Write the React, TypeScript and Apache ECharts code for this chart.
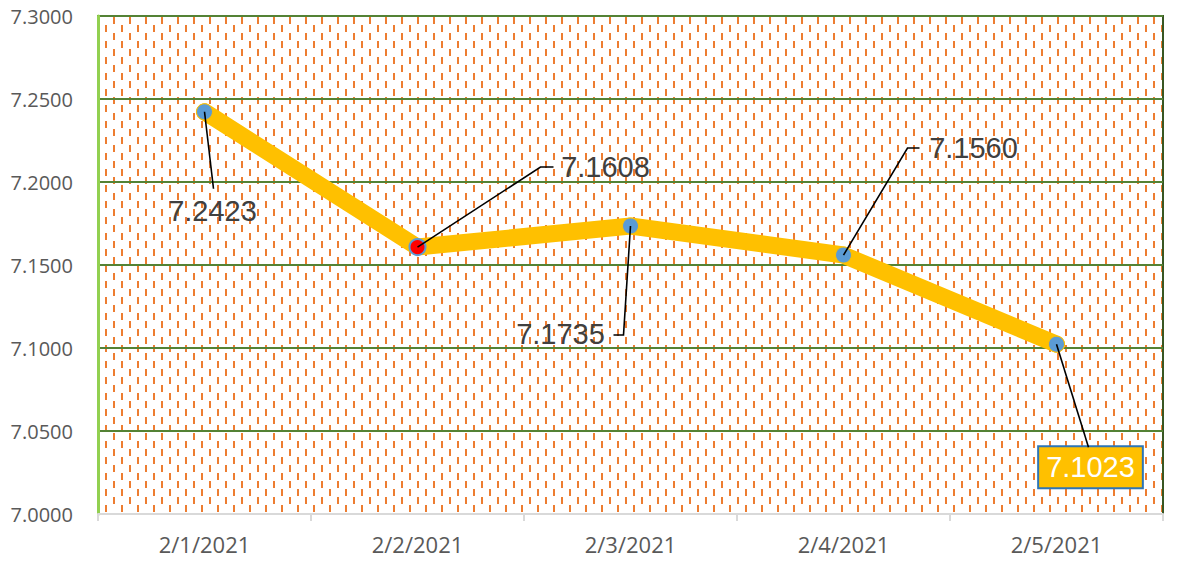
import React, { useEffect, useRef } from "react";
import * as echarts from "echarts";

const categories = ["2/1/2021", "2/2/2021", "2/3/2021", "2/4/2021", "2/5/2021"];
const values = [7.2423, 7.1608, 7.1735, 7.156, 7.1023];
const yMin = 7.0;
const yMax = 7.3;
const yStep = 0.05;
const labelOffsets: number[][] = [
  [8, 99],
  [188, -80],
  [-70, 108],
  [130, -107],
  [34, 123],
];
// leader line bends, relative to each point (pixels)
const leaderPaths: number[][][] = [
  [[9, 77]],
  [[123, -80], [136, -80]],
  [[-7, 109], [-17, 109]],
  [[64, -107], [76, -107]],
  [[32, 103]],
];

function makePattern(): string {
  const c = document.createElement("canvas");
  c.width = 16;
  c.height = 16;
  const ctx = c.getContext("2d");
  if (ctx) {
    ctx.fillStyle = "#ffffff";
    ctx.fillRect(0, 0, 16, 16);
    ctx.fillStyle = "#ed7d31";
    ctx.fillRect(1, 1, 2, 7);
    ctx.fillRect(9, 9, 2, 7);
  }
  return c.toDataURL("image/png");
}

export default function App() {
  const ref = useRef<HTMLDivElement>(null);
  useEffect(() => {
    if (!ref.current) return;
    const chart = echarts.init(ref.current, null, { renderer: "svg" });
    const data = values.map((v, i) => {
      const item: any = {
        value: v,
        label: { offset: labelOffsets[i] },
      };
      if (i === 1) {
        item.itemStyle = { color: "#ff0000", borderColor: "#5b9bd5", borderWidth: 2 };
      }
      if (i === 4) {
        item.label = {
          offset: labelOffsets[i],
          color: "#ffffff",
          backgroundColor: "#ffc000",
          borderColor: "#2e75b6",
          borderWidth: 2,
          padding: [4, 7, 2, 7],
          lineHeight: 34,
        };
      }
      return item;
    });
    chart.setOption({
      animation: false,
      grid: {
        left: 98,
        right: 15,
        top: 16,
        bottom: 48,
        show: true,
        backgroundColor: {
          image: makePattern(),
          repeat: "repeat",
          imageWidth: 16,
          imageHeight: 16,
        },
        borderColor: "#385723",
        borderWidth: 2,
      },
      xAxis: {
        type: "category",
        data: categories,
        boundaryGap: true,
        axisLine: { show: true, lineStyle: { color: "#d9d9d9", width: 2 } },
        axisTick: { show: true, length: 7, lineStyle: { color: "#d9d9d9", width: 2 } },
        axisLabel: {
          color: "#595959",
          fontSize: 22,
          fontFamily: "Open Sans",
          margin: 19,
        },
        splitLine: { show: false },
      },
      yAxis: {
        type: "value",
        min: yMin,
        max: yMax,
        interval: yStep,
        axisLine: { show: true, lineStyle: { color: "#92d050", width: 3 } },
        axisTick: { show: false },
        axisLabel: {
          color: "#595959",
          fontSize: 20,
          fontFamily: "Open Sans",
          margin: 25,
          formatter: (v: number) => v.toFixed(4),
        },
        splitLine: { show: true, lineStyle: { color: "#548235", width: 2 } },
      },
      series: [
        {
          type: "line",
          data,
          symbol: "circle",
          symbolSize: 16,
          lineStyle: { color: "#ffc000", width: 17, cap: "round", join: "round" },
          itemStyle: { color: "#5b9bd5", borderColor: "#ffc000", borderWidth: 1 },
          z: 3,
          label: {
            show: true,
            position: "inside",
            fontSize: 29,
            fontFamily: "Liberation Sans",
            color: "#404040",
            lineHeight: 20,
            formatter: (p: any) => Number(p.value).toFixed(4),
          },
        },
      ],
    });
    const leaders = values.map((v, i) => {
      const p = chart.convertToPixel({ seriesIndex: 0 }, [i, v]) as number[];
      const pts = [[p[0], p[1]]].concat(
        leaderPaths[i].map((d) => [p[0] + d[0], p[1] + d[1]])
      );
      return {
        type: "polyline",
        z: 100,
        silent: true,
        shape: { points: pts },
        style: { stroke: "#000000", lineWidth: 1.6, fill: null },
      };
    });
    chart.setOption({ graphic: leaders });
    return () => chart.dispose();
  }, []);
  return (
    <div
      ref={ref}
      style={{ position: "fixed", left: 0, top: 0, width: 1178, height: 562, background: "#ffffff" }}
    />
  );
}
